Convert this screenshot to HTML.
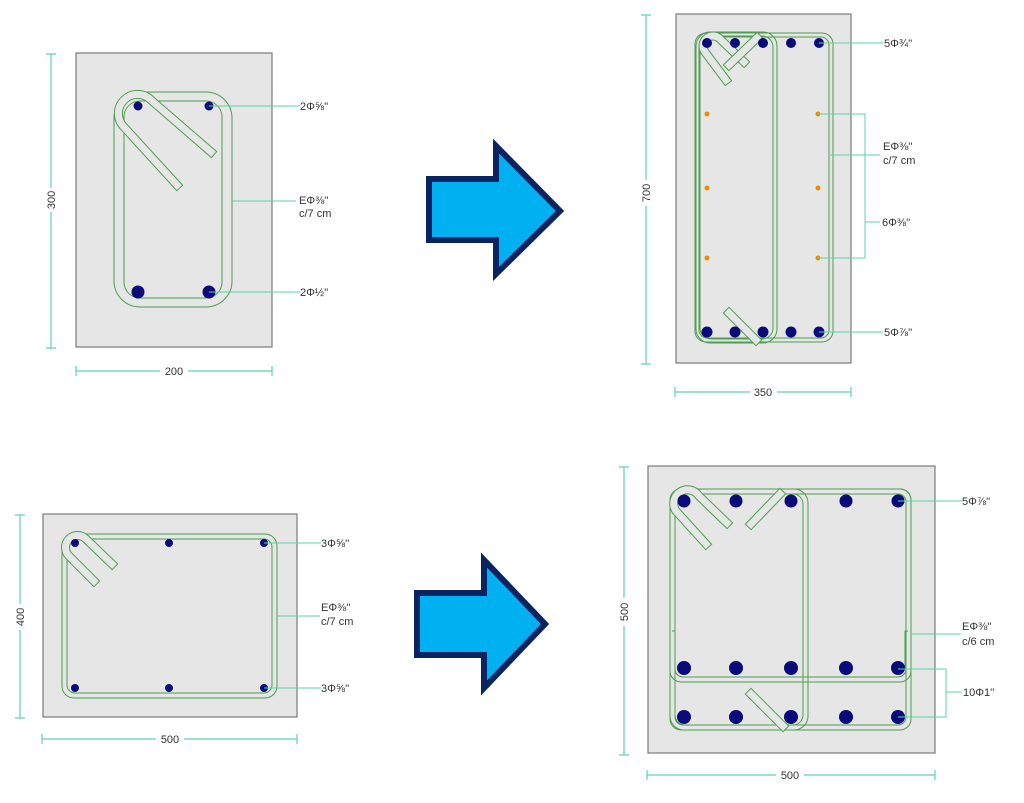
<!DOCTYPE html>
<html><head><meta charset="utf-8"><style>
html,body{margin:0;padding:0;background:#fff;}
svg{display:block;}
text{font-family:"Liberation Sans","DejaVu Sans",sans-serif;fill:#333;font-size:11px;}
</style></head><body>
<svg width="1024" height="803" viewBox="0 0 1024 803" xmlns="http://www.w3.org/2000/svg">
<defs>
<style>
.con{fill:#e6e6e6;stroke:#7a7a7a;stroke-width:1.2}
.st{fill:none;stroke:#4f9e4f;stroke-width:1}
.dim{stroke:#5fd3a8;stroke-width:1.2;fill:none}
.ld{stroke:#5fd3a8;stroke-width:1;fill:none}
.bar{fill:#0a0a7a}
.or{fill:#f08c00}
.hk1{fill:none;stroke:#4f9e4f;stroke-width:9;stroke-linejoin:round;stroke-linecap:square}
.hk2{fill:none;stroke:#e6e6e6;stroke-width:7;stroke-linejoin:round;stroke-linecap:square}
.arr{fill:#00b0f0;stroke:#0a2462;stroke-width:6;stroke-linejoin:miter}
</style>
</defs>

<!-- ============ PANEL 1 ============ -->
<rect class="con" x="76" y="53" width="196" height="294"/>
<path class="dim" d="M51,54V348 M46,54H56 M46,348H56"/>
<rect x="44" y="188" width="14" height="24" fill="#fff"/>
<text transform="translate(55,200) rotate(-90)" text-anchor="middle">300</text>
<path class="dim" d="M76,371H272 M76,366V376 M272,366V376"/>
<rect x="160" y="364" width="28" height="14" fill="#fff"/>
<text x="174" y="375" text-anchor="middle">200</text>
<rect class="st" x="114" y="92" width="118" height="215" rx="26"/>
<rect class="st" x="124" y="101" width="98" height="197" rx="16"/>
<path class="hk1" d="M211,152 L151,100 A19,19 0 0 0 124,127 L177,185"/>
<path class="hk2" d="M211,152 L151,100 A19,19 0 0 0 124,127 L177,185"/>
<circle class="bar" cx="138" cy="106" r="4.5"/>
<circle class="bar" cx="209" cy="106" r="4.5"/>
<circle class="bar" cx="138" cy="292" r="6.5"/>
<circle class="bar" cx="209" cy="292" r="6.5"/>
<path class="ld" d="M209,106H300 M232,201H296 M209,292H300"/>
<text x="300" y="110">2Φ⅝''</text>
<text x="299" y="204">EΦ⅜''</text>
<text x="299" y="217">c/7 cm</text>
<text x="300" y="296">2Φ½''</text>

<!-- arrow 1 -->
<polygon class="arr" points="429,179 496,179 496,146 560,211 496,274 496,240 429,240"/>

<!-- ============ PANEL 2 ============ -->
<rect class="con" x="676" y="14" width="175" height="349"/>
<path class="dim" d="M646,15V364 M641,15H651 M641,364H651"/>
<rect x="639" y="180" width="14" height="26" fill="#fff"/>
<text transform="translate(650,193) rotate(-90)" text-anchor="middle">700</text>
<path class="dim" d="M675,392H851 M675,387V397 M851,387V397"/>
<rect x="750" y="385" width="27" height="14" fill="#fff"/>
<text x="763" y="396" text-anchor="middle">350</text>
<rect class="st" x="695" y="33" width="138" height="309" rx="11"/>
<rect class="st" x="699" y="37" width="130" height="301" rx="8"/>
<rect class="st" x="696" y="32" width="81" height="311" rx="14"/>
<rect class="st" x="700" y="36" width="73" height="303" rx="11"/>
<path class="hk1" d="M744,62 L719,38 A10,10 0 0 0 705,52 L726,80"/>
<path class="hk2" d="M744,62 L719,38 A10,10 0 0 0 705,52 L726,80"/>
<path class="hk1" d="M729,65 L757,38"/>
<path class="hk2" d="M729,65 L757,38"/>
<path class="hk1" d="M729,313 L756,340"/>
<path class="hk2" d="M729,313 L756,340"/>
<g class="bar">
<circle cx="707" cy="43" r="5"/><circle cx="735" cy="43" r="5"/><circle cx="763" cy="43" r="5"/><circle cx="791" cy="43" r="5"/><circle cx="819" cy="43" r="5"/>
<circle cx="707" cy="332" r="5.5"/><circle cx="735" cy="332" r="5.5"/><circle cx="763" cy="332" r="5.5"/><circle cx="791" cy="332" r="5.5"/><circle cx="819" cy="332" r="5.5"/>
</g>
<g class="or">
<circle cx="707" cy="114" r="2.5"/><circle cx="818" cy="114" r="2.5"/>
<circle cx="707" cy="188" r="2.5"/><circle cx="818" cy="188" r="2.5"/>
<circle cx="707" cy="258" r="2.5"/><circle cx="818" cy="258" r="2.5"/>
</g>
<path class="ld" d="M819,43H883 M818,114H865V258H818 M865,222H880 M830,155H880 M819,332H883"/>
<text x="884" y="47">5Φ¾''</text>
<text x="883" y="150">EΦ⅜''</text>
<text x="883" y="164">c/7 cm</text>
<text x="882" y="226">6Φ⅜''</text>
<text x="884" y="336">5Φ⅞''</text>

<!-- ============ PANEL 3 ============ -->
<rect class="con" x="43" y="514" width="254" height="203"/>
<path class="dim" d="M20,515V718 M15,515H25 M15,718H25"/>
<rect x="13" y="604" width="14" height="26" fill="#fff"/>
<text transform="translate(24,617) rotate(-90)" text-anchor="middle">400</text>
<path class="dim" d="M42,739H297 M42,734V744 M297,734V744"/>
<rect x="156" y="732" width="28" height="14" fill="#fff"/>
<text x="170" y="743" text-anchor="middle">500</text>
<rect class="st" x="62" y="534" width="215" height="164" rx="12"/>
<rect class="st" x="67" y="539" width="205" height="154" rx="8"/>
<path class="hk1" d="M112,564 L86,539 A11,11 0 0 0 69,556 L94,581"/>
<path class="hk2" d="M112,564 L86,539 A11,11 0 0 0 69,556 L94,581"/>
<g class="bar">
<circle cx="75" cy="543" r="4"/><circle cx="169" cy="543" r="4"/><circle cx="264" cy="543" r="4"/>
<circle cx="75" cy="688" r="4"/><circle cx="169" cy="688" r="4"/><circle cx="264" cy="688" r="4"/>
</g>
<path class="ld" d="M264,543H321 M277,616H320 M264,688H321"/>
<text x="321" y="547">3Φ⅝''</text>
<text x="321" y="611">EΦ⅜''</text>
<text x="321" y="625">c/7 cm</text>
<text x="321" y="692">3Φ⅝''</text>

<!-- arrow 2 -->
<polygon class="arr" points="417,593 484,593 484,560 545,624 484,688 484,655 417,655"/>

<!-- ============ PANEL 4 ============ -->
<rect class="con" x="648" y="466" width="287" height="287"/>
<path class="dim" d="M624,467V755 M619,467H629 M619,755H629"/>
<rect x="617" y="598" width="14" height="28" fill="#fff"/>
<text transform="translate(628,612) rotate(-90)" text-anchor="middle">500</text>
<path class="dim" d="M647,775H935 M647,770V780 M935,770V780"/>
<rect x="776" y="768" width="28" height="14" fill="#fff"/>
<text x="790" y="779" text-anchor="middle">500</text>
<rect class="st" x="670" y="489" width="241" height="241" rx="11"/>
<rect class="st" x="675" y="494" width="231" height="231" rx="8"/>
<rect class="st" x="670" y="489" width="241" height="193" rx="11"/>
<rect class="st" x="675" y="494" width="231" height="183" rx="8"/>
<rect class="st" x="670" y="489" width="138" height="241" rx="14"/>
<rect class="st" x="675" y="494" width="128" height="231" rx="10"/>
<path class="st" d="M672,631H675V670 M908,631H905V670"/>
<path class="hk1" d="M727,523 L699,496 A11,11 0 0 0 676,511 L706,544"/>
<path class="hk2" d="M727,523 L699,496 A11,11 0 0 0 676,511 L706,544"/>
<path class="hk1" d="M751,524 L780,494"/>
<path class="hk2" d="M751,524 L780,494"/>
<path class="hk1" d="M751,694 L783,726"/>
<path class="hk2" d="M751,694 L783,726"/>
<g class="bar">
<circle cx="684" cy="501" r="6.5"/><circle cx="736" cy="501" r="6.5"/><circle cx="791" cy="501" r="6.5"/><circle cx="846" cy="501" r="6.5"/><circle cx="898" cy="501" r="6.5"/>
<circle cx="684" cy="668" r="7"/><circle cx="736" cy="668" r="7"/><circle cx="791" cy="668" r="7"/><circle cx="846" cy="668" r="7"/><circle cx="898" cy="668" r="7"/>
<circle cx="684" cy="717" r="7"/><circle cx="736" cy="717" r="7"/><circle cx="791" cy="717" r="7"/><circle cx="846" cy="717" r="7"/><circle cx="898" cy="717" r="7"/>
</g>
<path class="ld" d="M898,501H962 M910,634H961 M898,669H946V717H898 M946,692H962"/>
<text x="962" y="505">5Φ⅞''</text>
<text x="962" y="630">EΦ⅜''</text>
<text x="962" y="645">c/6 cm</text>
<text x="963" y="696">10Φ1''</text>
</svg>
</body></html>
